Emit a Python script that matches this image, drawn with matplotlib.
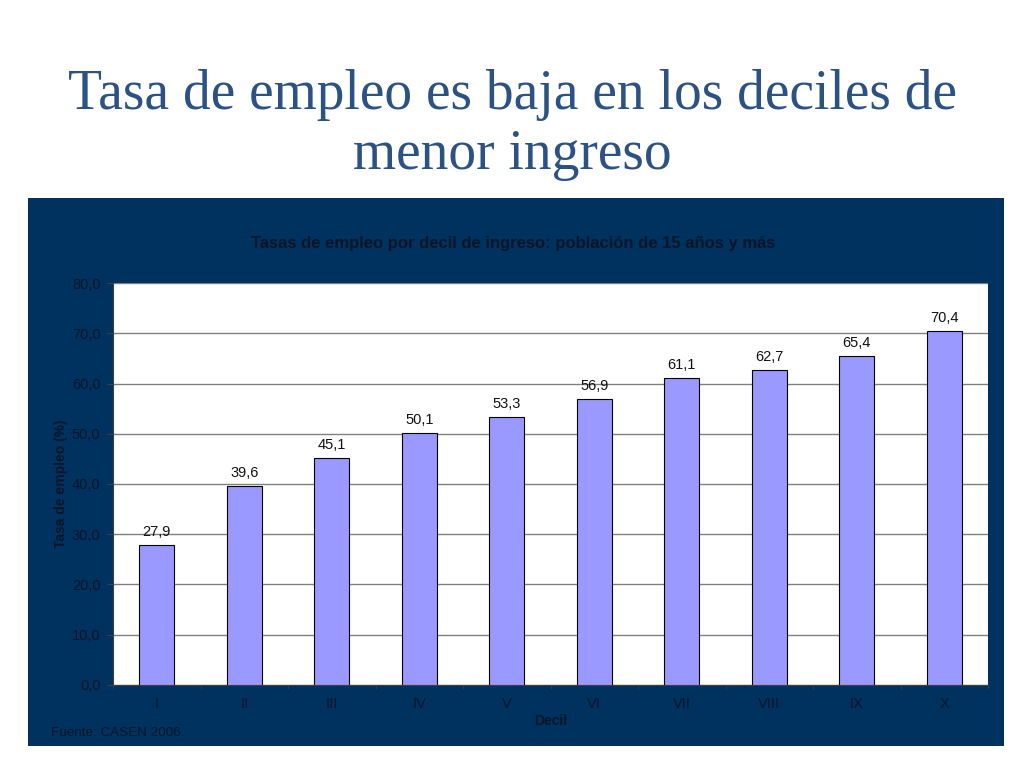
import matplotlib.pyplot as plt
from matplotlib.patches import Rectangle
from matplotlib.ticker import MultipleLocator, FuncFormatter

# Datos: tasa de empleo por decil de ingreso (CASEN 2006)
deciles = ['I', 'II', 'III', 'IV', 'V', 'VI', 'VII', 'VIII', 'IX', 'X']
tasa_empleo = [27.9, 39.6, 45.1, 50.1, 53.3, 56.9, 61.1, 62.7, 65.4, 70.4]

navy = '#00325F'
bar_color = '#9999FF'
txt = '#0A1528'

fig = plt.figure(figsize=(10.24, 7.68), dpi=100)
fig.patch.set_facecolor('white')

# titulo de la diapositiva
fig.text(0.5, 0.876, 'Tasa de empleo es baja en los deciles de',
         ha='center', va='center', fontsize=40, color='#2B5283',
         family='Liberation Serif')
fig.text(0.5, 0.798, 'menor ingreso',
         ha='center', va='center', fontsize=40, color='#2B5283',
         family='Liberation Serif')

# fondo azul del grafico
fig.patches.append(Rectangle((0.0273, 0.0286), 0.953, 0.7135,
                             transform=fig.transFigure, facecolor=navy,
                             edgecolor='none', zorder=-1))

ax = fig.add_axes([0.1104, 0.1081, 0.8545, 0.5234])
ax.set_facecolor('white')
x = range(len(deciles))
ax.bar(x, tasa_empleo, width=0.4, color=bar_color, edgecolor='black',
       linewidth=0.8, zorder=3)

for xi, v in zip(x, tasa_empleo):
    ax.text(xi, v + 1.2, f'{v:.1f}'.replace('.', ','), ha='center',
            va='bottom', fontsize=10.5, family='Liberation Sans', color='#111111')

ax.set_ylim(0, 80)
ax.set_xlim(-0.5, len(deciles) - 0.5)
ax.yaxis.set_major_locator(MultipleLocator(10))
ax.yaxis.set_major_formatter(FuncFormatter(lambda v, p: f'{v:.1f}'.replace('.', ',')))
ax.grid(axis='y', color='#808080', linewidth=1, zorder=0)

ax.set_xticks(list(x))
ax.set_xticklabels(deciles)
ax.set_xticks([i + 0.5 for i in range(-1, len(deciles))], minor=True)
ax.tick_params(axis='x', which='major', length=0, pad=9)
ax.tick_params(axis='x', which='minor', length=3, color='#404040')
ax.tick_params(axis='y', length=4, color='#404040', pad=5)
for lab in ax.get_xticklabels() + ax.get_yticklabels():
    lab.set_fontsize(10.5)
    lab.set_family('Liberation Sans')
    lab.set_color(txt)

for s in ['top', 'right']:
    ax.spines[s].set_visible(False)
ax.spines['left'].set_color('#404040')
ax.spines['bottom'].set_color('#404040')

ax.set_xlabel('Decil', fontsize=10, fontweight='bold', family='Liberation Sans',
              labelpad=2, color=txt)
ax.set_ylabel('Tasa de empleo (%)', fontsize=10, fontweight='bold',
              family='Liberation Sans', labelpad=3, color=txt)

fig.text(0.501, 0.683, 'Tasas de empleo por decil de ingreso: población de 15 años y más',
         ha='center', va='center', fontsize=12, fontweight='bold',
         family='Liberation Sans', color=txt)
fig.text(0.050, 0.046, 'Fuente: CASEN 2006.', ha='left', va='center',
         fontsize=9.7, family='Liberation Sans', color=txt)

fig.savefig('out.png', dpi=100)
